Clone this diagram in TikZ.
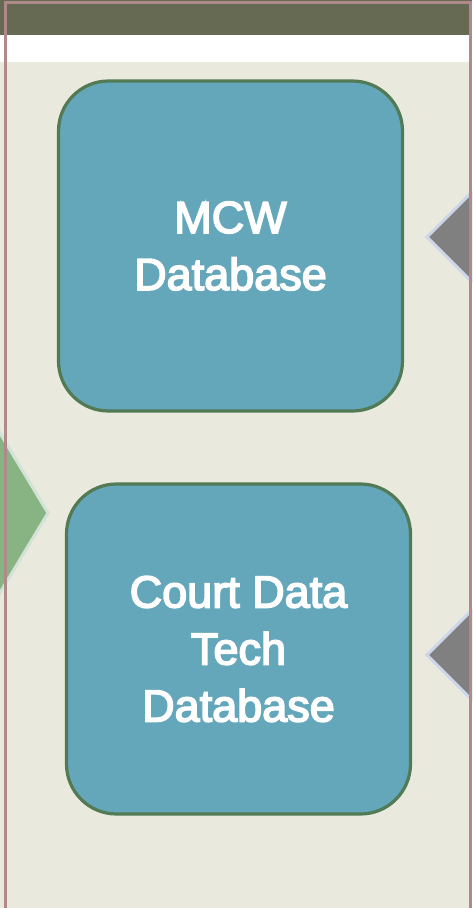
\documentclass[tikz,border=0pt]{standalone}
\usepackage{fontspec}
\setmainfont{Liberation Sans}
\newfontfamily\boxfont[FakeBold=3.5]{Liberation Sans}
\definecolor{bgbeige}{HTML}{E9E9DD}
\definecolor{topolive}{HTML}{666A52}
\definecolor{boxfill}{HTML}{65A7BA}
\definecolor{boxline}{HTML}{527A55}
\definecolor{diagreen}{HTML}{88B484}
\definecolor{diaedge}{HTML}{D2E2D6}
\definecolor{trigray}{HTML}{808080}
\definecolor{triedge}{HTML}{CDD5EA}
\definecolor{framepink}{HTML}{B08A8A}
\tikzset{
  dbbox/.style={draw=boxline, line width=3.2pt, fill=boxfill, rounded corners=50pt,
    minimum width=344pt, minimum height=330pt, text=white, align=center,
    font=\boxfont\fontsize{45}{57}\selectfont, inner sep=0pt},
  greenarrow/.style={fill=diagreen, draw=diaedge, line width=3pt, line join=miter},
  grayarrow/.style={fill=trigray, draw=triedge, line width=3pt, line join=miter},
  framerule/.style={draw=framepink, line width=3pt}
}
\begin{document}
\begin{tikzpicture}[x=1pt,y=-1pt]
\useasboundingbox (0,0) rectangle (472,908);
\begin{scope}
\clip (0,0) rectangle (472,908);
\fill[bgbeige] (0,0) rectangle (472,908);
\fill[white] (0,35) rectangle (472,62);
\fill[topolive] (0,0) rectangle (472,35);
\coordinate (gapex) at (48,513);
\filldraw[greenarrow] (gapex) -- (-20,400) -- (-20,626) -- cycle;
\coordinate (t1apex) at (427,237);
\filldraw[grayarrow] (t1apex) -- (492,172) -- (492,302) -- cycle;
\coordinate (t2apex) at (427,655);
\filldraw[grayarrow] (t2apex) -- (492,590) -- (492,720) -- cycle;
\node[dbbox] (mcw) at (230.5,246) {MCW\\Database};
\node[dbbox] (court) at (238.5,649) {Court Data\\Tech\\Database};
\draw[framerule] (5.5,2.2) rectangle (470.8,930);
\end{scope}
\end{tikzpicture}
\end{document}
